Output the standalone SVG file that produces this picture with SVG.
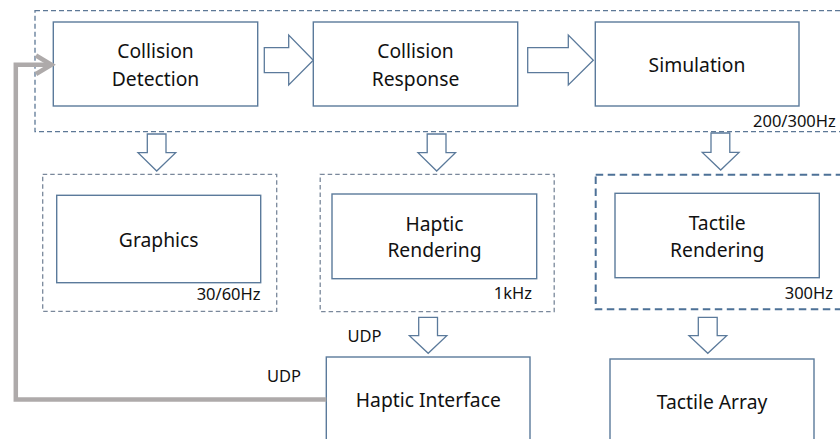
<svg xmlns="http://www.w3.org/2000/svg" width="840" height="439" viewBox="0 0 840 439">
<style>
.bg{fill:#ffffff}
.box{fill:#ffffff;stroke:#5b7a9b;stroke-width:1.4}
.dash{fill:none;stroke:#5d7896;stroke-width:1.3;stroke-dasharray:5 3}
.dash2{fill:none;stroke:#7a889b;stroke-width:1.3;stroke-dasharray:4.5 3}
.dash3{fill:none;stroke:#4d7197;stroke-width:2;stroke-dasharray:7.5 4.5}
.barrow{fill:#ffffff;stroke:#5b7a9b;stroke-width:1.3;stroke-linejoin:miter}
.lbl{font-family:"Noto Sans","Open Sans","DejaVu Sans",sans-serif;font-size:19.3px;fill:#111111;text-anchor:middle}
.sm{font-family:"Noto Sans","Open Sans","DejaVu Sans",sans-serif;font-size:16.5px;fill:#111111}
.grey{fill:none;stroke:#aeaaaa;stroke-width:4.5}
</style>
<rect class="bg" x="0" y="0" width="840" height="439"/>

<g id="pipeline">
  <rect class="dash" x="35" y="10.7" width="820" height="121"/>
  <text class="sm" x="753" y="126.7">200/300Hz</text>
</g>

<g id="collision-detection">
  <rect class="box" x="53.3" y="22" width="204.4" height="84"/>
  <text class="lbl" x="155.5" y="58.3">Collision</text>
  <text class="lbl" x="155.5" y="85.7">Detection</text>
</g>

<g id="collision-response">
  <rect class="box" x="313.3" y="22" width="204.4" height="84"/>
  <text class="lbl" x="415.5" y="58.3">Collision</text>
  <text class="lbl" x="415.5" y="85.5">Response</text>
</g>

<g id="simulation">
  <rect class="box" x="595.3" y="22" width="203.7" height="84"/>
  <text class="lbl" x="697" y="71.7">Simulation</text>
</g>

<g id="graphics">
  <rect class="dash2" x="42.7" y="174.3" width="234" height="137"/>
  <rect class="box" x="56.7" y="195.3" width="204" height="87.4"/>
  <text class="lbl" x="158.7" y="246.7">Graphics</text>
  <text class="sm" x="260.5" y="300" text-anchor="end">30/60Hz</text>
</g>

<g id="haptic-rendering">
  <rect class="dash2" x="320.2" y="174.3" width="234" height="137.4"/>
  <rect class="box" x="332" y="194" width="204.7" height="84.7"/>
  <text class="lbl" x="434.5" y="231">Haptic</text>
  <text class="lbl" x="434.5" y="257.3">Rendering</text>
  <text class="sm" x="532" y="299" text-anchor="end">1kHz</text>
</g>

<g id="tactile-rendering">
  <rect class="dash3" x="595.7" y="174.7" width="260" height="134.6"/>
  <rect class="box" x="615" y="193.3" width="204.3" height="84.4"/>
  <text class="lbl" x="717.2" y="230">Tactile</text>
  <text class="lbl" x="717.2" y="256.7">Rendering</text>
  <text class="sm" x="833" y="299" text-anchor="end">300Hz</text>
</g>

<g id="haptic-interface">
  <rect class="box" x="326.3" y="357" width="203.7" height="90"/>
  <text class="lbl" x="428.3" y="406.7">Haptic Interface</text>
</g>

<g id="tactile-array">
  <rect class="box" x="610" y="359" width="204" height="90"/>
  <text class="lbl" x="712" y="409">Tactile Array</text>
</g>

<g id="connectors">
  <!-- right block arrows -->
  <polygon class="barrow" points="264.3,47.7 288.7,47.7 288.7,35 313.3,60.3 288.7,85 288.7,72.7 264.3,72.7"/>
  <polygon class="barrow" points="527.7,47.7 568.3,47.7 568.3,35 593.3,60.3 568.3,85 568.3,72.7 527.7,72.7"/>
  <!-- down block arrows -->
  <polygon class="barrow" points="147.3,134 166,134 166,152.7 175.7,152.7 156.7,171 138,152.7 147.3,152.7"/>
  <polygon class="barrow" points="427.2,134 446,134 446,152.7 455.5,152.7 436.7,171 418,152.7 427.2,152.7"/>
  <polygon class="barrow" points="711,133 729.8,133 729.8,152.4 739,152.4 720.7,170 702.3,152.4 711,152.4"/>
  <polygon class="barrow" points="418.7,317.3 437.5,317.3 437.5,335.7 446.8,335.7 428.2,353.3 409.4,335.7 418.7,335.7"/>
  <polygon class="barrow" points="698.3,317.3 717.2,317.3 717.2,335.7 726.7,335.7 707.8,353.3 689,335.7 698.3,335.7"/>
  <!-- grey UDP feedback line -->
  <polyline class="grey" points="326.3,399.5 15.8,399.5 15.8,64.8 51,64.8"/>
  <polyline class="grey" points="36,55.5 51.5,64.8 36,74" stroke-linejoin="miter"/>
  <text class="sm" x="347.5" y="342.3">UDP</text>
  <text class="sm" x="267" y="381.7">UDP</text>
</g>
</svg>
